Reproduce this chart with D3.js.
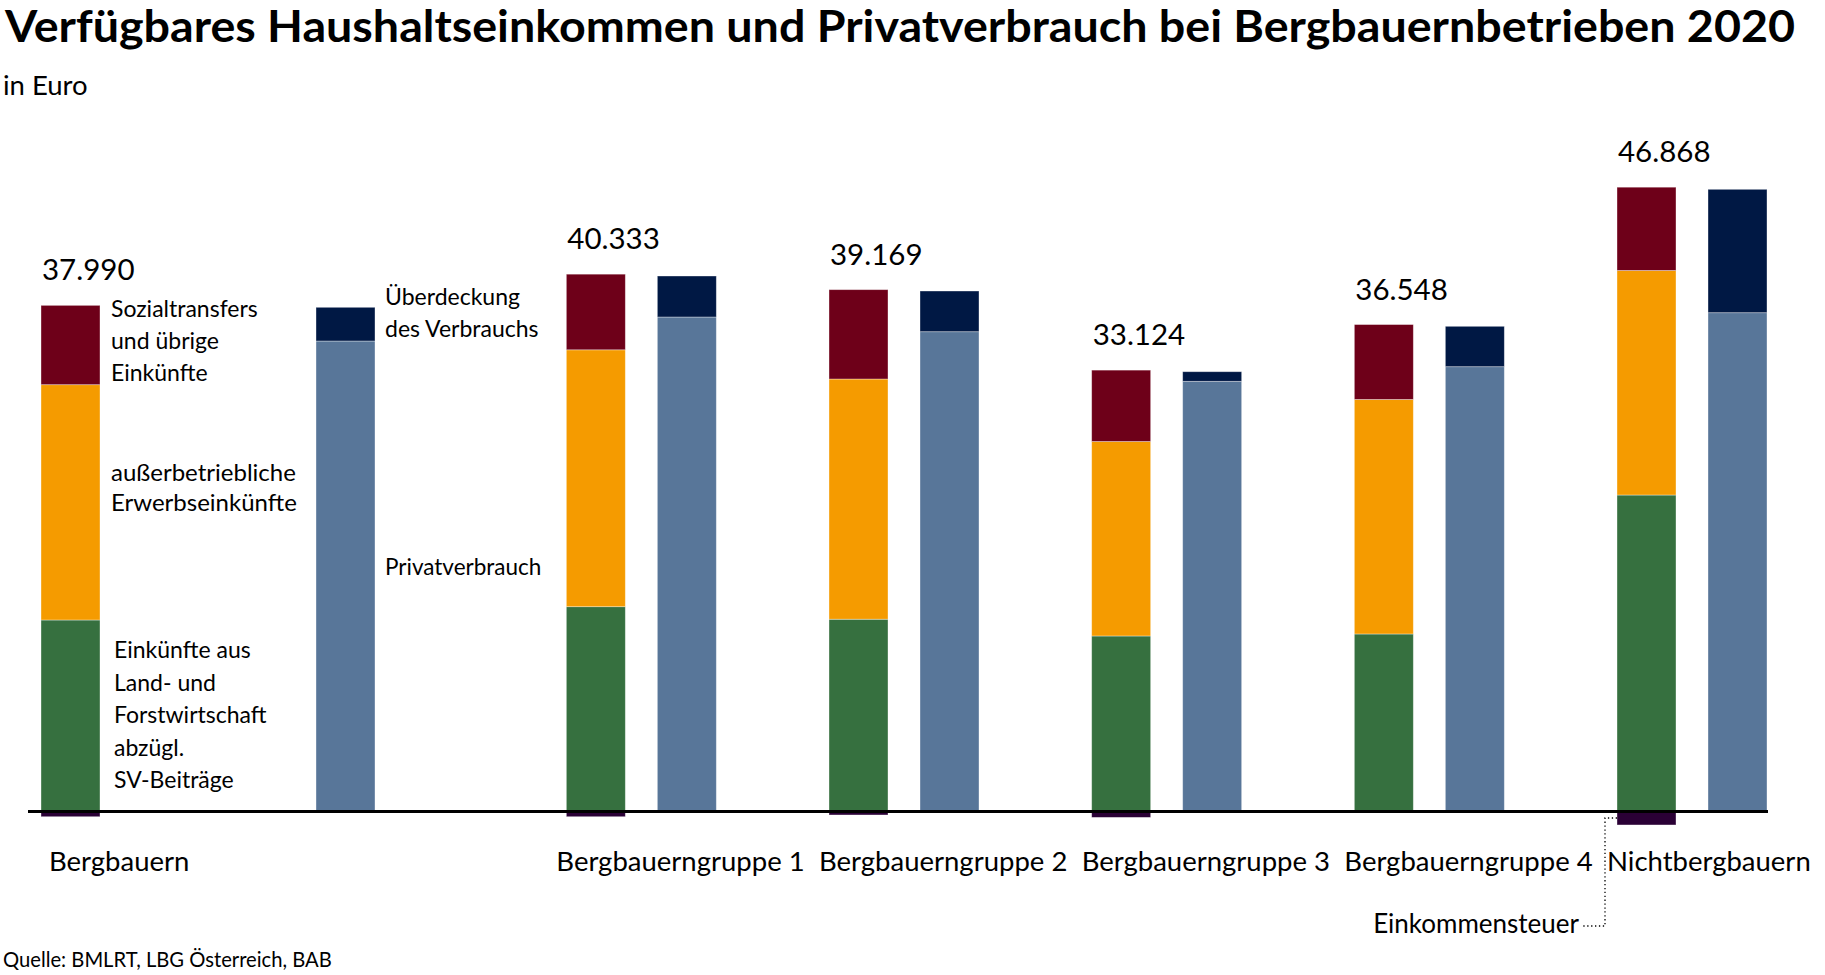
<!DOCTYPE html>
<html><head><meta charset="utf-8">
<script src="https://cdn.jsdelivr.net/npm/d3@7"></script>
<style>
html,body{margin:0;padding:0;background:#fff;}
svg{display:block;}
text{font-family:Lato,"Noto Sans",sans-serif;fill:#000;}
</style></head><body>
<svg id="chart" width="1825" height="975"></svg>
<script>
// ---- data (Euro) ----
const categories = ["Bergbauern","Bergbauerngruppe 1","Bergbauerngruppe 2","Bergbauerngruppe 3","Bergbauerngruppe 4","Nichtbergbauern"];
const totalLabels = ["37.990","40.333","39.169","33.124","36.548","46.868"];
const landForst = [14350, 15350, 14410, 13150, 13300, 23740];      // Einkünfte aus Land- und Forstwirtschaft abzügl. SV-Beiträge
const ausserbetrieblich = [17680, 19300, 18046, 14610, 17620, 16870]; // außerbetriebliche Erwerbseinkünfte
const sozial = [5960, 5683, 6713, 5364, 5628, 6258];               // Sozialtransfers und übrige Einkünfte
const einkommensteuer = [430, 430, 300, 480, 100, 1050];           // negative, below zero line
const privatverbrauch = [35312, 37115, 36010, 32284, 33381, 37438];
const ueberdeckung = [2532, 3080, 3058, 721, 3035, 9271];

const incomeKeys = ["landForst","ausserbetrieblich","sozial"];
const consKeys = ["privatverbrauch","ueberdeckung"];
const colors = {
  landForst:"#36703f", ausserbetrieblich:"#f59b00", sozial:"#6e0019",
  privatverbrauch:"#587699", ueberdeckung:"#001844", steuer:"#2a0035"
};

const rows = categories.map((c,i)=>({
  cat:c, label:totalLabels[i],
  landForst:landForst[i], ausserbetrieblich:ausserbetrieblich[i], sozial:sozial[i],
  privatverbrauch:privatverbrauch[i], ueberdeckung:ueberdeckung[i],
  steuer:einkommensteuer[i]
}));

const svg = d3.select("#chart");

// ---- scales ----
const y = d3.scaleLinear().domain([0, 40000]).range([811, 278.6]);
const slotIndex = [0, 2, 3, 4, 5, 6];
const slot = d3.scaleLinear().domain([0, 6]).range([41, 1617]);
const barW = 59;
const x1 = i => slot(slotIndex[i]);
const x2 = i => x1(i) + (i === 0 ? 275 : 91);

// ---- title ----
svg.append("text").attr("x", 5).attr("y", 42)
  .style("font-size","43px").style("font-weight","700")
  .attr("textLength",1790).attr("lengthAdjust","spacingAndGlyphs")
  .text("Verfügbares Haushaltseinkommen und Privatverbrauch bei Bergbauernbetrieben 2020");
svg.append("text").attr("x", 3).attr("y", 95)
  .style("font-size","27.5px").text("in Euro");

// ---- stacks ----
const incStack = d3.stack().keys(incomeKeys)(rows);
const consStack = d3.stack().keys(consKeys)(rows);

const g = svg.append("g");
incStack.forEach(layer=>{
  g.selectAll(null).data(layer).join("rect")
    .attr("x",(d,i)=>x1(i)).attr("width",barW)
    .attr("y",d=>y(d[1])).attr("height",d=>y(d[0])-y(d[1]))
    .attr("fill",colors[layer.key])
    .attr("stroke","rgba(255,255,255,0.45)").attr("stroke-width",0.8);
});
consStack.forEach(layer=>{
  g.selectAll(null).data(layer).join("rect")
    .attr("x",(d,i)=>x2(i)).attr("width",barW)
    .attr("y",d=>y(d[1])).attr("height",d=>y(d[0])-y(d[1]))
    .attr("fill",colors[layer.key])
    .attr("stroke","rgba(255,255,255,0.45)").attr("stroke-width",0.8);
});
// tax (negative)
g.selectAll(null).data(rows).join("rect")
  .attr("x",(d,i)=>x1(i)).attr("width",barW)
  .attr("y",y(0)).attr("height",d=>y(-d.steuer)-y(0))
  .attr("fill",colors.steuer)
  .attr("stroke","rgba(255,255,255,0.45)").attr("stroke-width",0.8);

// zero line
svg.append("path")
  .attr("d", d3.line()([[28, y(0)+0.5],[1768, y(0)+0.5]]))
  .attr("stroke","#000").attr("stroke-width",3.2);

// ---- total labels ----
svg.selectAll(null).data(rows).join("text")
  .attr("x",(d,i)=>x1(i)+1)
  .attr("y",d=>y(d.landForst+d.ausserbetrieblich+d.sozial)-25)
  .style("font-size","29.5px")
  .text(d=>d.label);

// ---- category labels ----
svg.selectAll(null).data(rows).join("text")
  .attr("x",(d,i)=>x1(i) + (i===0 ? 8 : -10))
  .attr("y",871)
  .style("font-size","27.5px")
  .text(d=>d.cat);

// ---- segment legend labels (next to Bergbauern bars) ----
const r0 = rows[0];
function block(lines, xx, y0, step, size){
  const t = svg.append("text").style("font-size",(size||23)+"px");
  lines.forEach((l,k)=>t.append("tspan").attr("x",xx).attr("y",y0+k*step).text(l));
}
const lx = x1(0) + barW + 11;
block(["Sozialtransfers","und übrige","Einkünfte"], lx, y(r0.landForst+r0.ausserbetrieblich+r0.sozial)+12, 32);
block(["außerbetriebliche","Erwerbseinkünfte"], lx, y(r0.landForst+r0.ausserbetrieblich)+96, 30, 24);
block(["Einkünfte aus","Land- und","Forstwirtschaft","abzügl.","SV-Beiträge"], lx+3, y(r0.landForst)+38, 32.5);
const cx = x2(0) + barW + 10;
block(["Überdeckung","des Verbrauchs"], cx, y(r0.privatverbrauch+r0.ueberdeckung)-2, 32);
block(["Privatverbrauch"], cx, 575, 32, 22.5);

// ---- Einkommensteuer annotation ----
const nb = rows.length-1;
const ty = y(-rows[nb].steuer/2);
svg.append("path")
  .attr("d", d3.line()([[x1(nb), ty],[x1(nb)-12, ty],[x1(nb)-12, 926],[x1(nb)-34, 926]]))
  .attr("fill","none").attr("stroke","#000").attr("stroke-width",1.3)
  .attr("stroke-dasharray","1.3,2.6");
svg.append("text").attr("x", x1(nb)-38).attr("y",933)
  .attr("text-anchor","end").style("font-size","26px").text("Einkommensteuer");

// ---- source ----
svg.append("text").attr("x",3).attr("y",967)
  .style("font-size","20.2px").text("Quelle: BMLRT, LBG Österreich, BAB");
</script>
</body></html>
